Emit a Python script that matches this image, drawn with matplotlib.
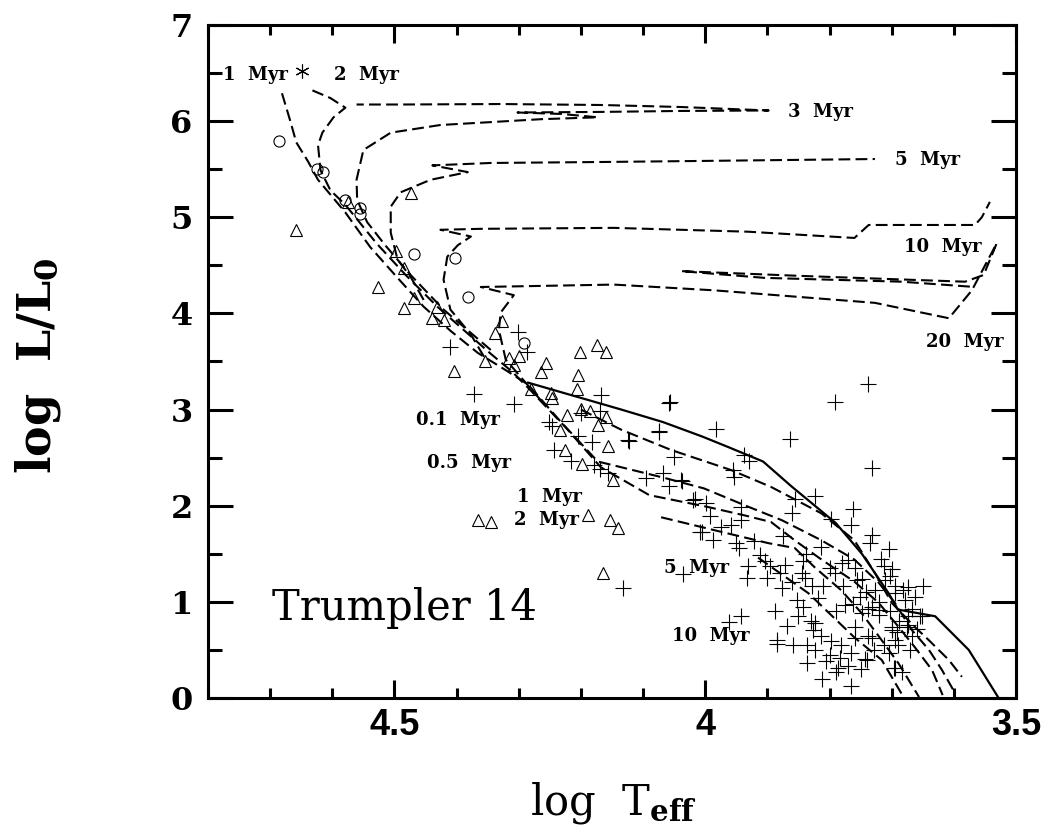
import matplotlib
matplotlib.use("Agg")
import matplotlib.pyplot as plt
from matplotlib.ticker import MultipleLocator

plt.rcParams['mathtext.fontset'] = 'dejavuserif'
plt.rcParams['lines.scale_dashes'] = False

# --- isochrones (log Teff, log L) ---
iso1_t = [4.681, 4.668, 4.658, 4.639, 4.623, 4.579, 4.539, 4.495, 4.453, 4.410, 4.366, 4.321,
          4.285, 4.232, 4.173, 4.135, 4.066, 4.002, 3.931, 3.877, 3.813, 3.760, 3.721, 3.695,
          3.668, 3.640, 3.619, 3.598]
iso1_l = [6.29, 6.01, 5.78, 5.58, 5.39, 5.05, 4.69, 4.37, 4.07, 3.82, 3.59, 3.41,
          3.26, 2.87, 2.46, 2.40, 2.29, 2.18, 1.99, 1.85, 1.64, 1.44, 1.20, 0.99,
          0.71, 0.50, 0.29, 0.05]

iso2_t = [4.632, 4.603, 4.579, 4.598, 4.616, 4.623, 4.619, 4.603, 4.579, 4.529, 4.482, 4.431,
          4.389, 4.345, 4.310, 4.281, 4.224, 4.168, 4.090, 3.998, 3.937, 3.894, 3.856, 3.813,
          3.760, 3.721, 3.689, 3.663, 3.635, 3.618]
iso2_l = [6.32, 6.24, 6.14, 6.04, 5.88, 5.75, 5.49, 5.28, 5.13, 4.73, 4.40, 4.07,
          3.83, 3.58, 3.39, 3.20, 2.81, 2.40, 2.11, 1.99, 1.90, 1.83, 1.64, 1.44,
          1.21, 0.99, 0.74, 0.53, 0.29, 0.03]

iso3_t = [4.345, 4.421, 4.474, 4.515, 4.544, 4.560, 4.561, 4.550, 4.506, 4.426, 4.345, 4.265,
          4.173, 4.232, 4.302, 4.168, 4.039, 3.898, 4.039, 4.168, 4.329, 4.490, 4.561]
iso3_l = [3.62, 4.04, 4.40, 4.71, 4.95, 5.18, 5.39, 5.70, 5.88, 5.96, 5.99, 6.02,
          6.04, 6.075, 6.09, 6.096, 6.106, 6.111, 6.147, 6.168, 6.178, 6.173, 6.173]

iso5_t = [4.453, 4.474, 4.495, 4.506, 4.506, 4.490, 4.442, 4.382, 4.439, 4.345, 4.168, 4.006, 3.727]
iso5_l = [4.14, 4.38, 4.56, 4.84, 5.11, 5.26, 5.39, 5.47, 5.54, 5.565, 5.575, 5.586, 5.606]

iso10_t = [4.356, 4.377, 4.410, 4.421, 4.415, 4.398, 4.377, 4.426, 4.361, 4.147, 3.931, 3.760,
           3.737, 3.566, 3.555, 3.542]
iso10_l = [3.55, 3.78, 4.04, 4.35, 4.59, 4.71, 4.80, 4.87, 4.88, 4.89, 4.85, 4.785,
           4.92, 4.92, 5.00, 5.16]

iso20_t = [4.265, 4.321, 4.332, 4.329, 4.308, 4.361, 4.147, 3.985, 3.727, 3.608, 3.571, 3.531,
           3.552, 3.582, 3.845, 4.039, 3.905, 3.684, 3.566]
iso20_l = [3.10, 3.52, 3.83, 4.01, 4.19, 4.275, 4.30, 4.24, 4.11, 3.95, 4.24, 4.73,
           4.40, 4.33, 4.39, 4.44, 4.37, 4.33, 4.275]

# pre-main-sequence isochrones
pms01_t = [4.285, 4.135, 4.068, 4.005, 3.963, 3.907, 3.861, 3.790, 3.748, 3.705, 3.690, 3.630,
           3.576, 3.528]
pms01_l = [3.28, 3.00, 2.87, 2.72, 2.61, 2.46, 2.20, 1.82, 1.50, 1.09, 0.92, 0.85, 0.50, 0.00]

pms05_t = [4.200, 4.135, 4.055, 3.958, 3.894, 3.813, 3.760, 3.727, 3.700, 3.663, 3.640, 3.608, 3.587]
pms05_l = [3.00, 2.79, 2.58, 2.37, 2.195, 1.92, 1.64, 1.30, 0.99, 0.74, 0.60, 0.395, 0.22]

pms5_t = [4.071, 3.969, 3.898, 3.856, 3.824, 3.781, 3.748, 3.716, 3.689, 3.656]
pms5_l = [1.88, 1.72, 1.61, 1.56, 1.36, 1.12, 0.88, 0.60, 0.36, 0.01]

pms10_t = [3.915, 3.834, 3.760, 3.716, 3.681]
pms10_l = [1.46, 1.09, 0.63, 0.395, 0.01]

# --- stars ---
circ_t = [4.685, 4.624, 4.615, 4.579, 4.555, 4.555, 4.469, 4.403, 4.381, 4.292]
circ_l = [5.79, 5.50, 5.47, 5.18, 5.10, 5.03, 4.62, 4.58, 4.17, 3.69]

star_t = [4.648]
star_l = [6.52]

tri_t = [4.658, 4.574, 4.474, 4.498, 4.485, 4.527, 4.469, 4.485, 4.431, 4.440, 4.421, 4.405,
         4.355, 4.327, 4.339, 4.316, 4.300, 4.308, 4.256, 4.265, 4.202, 4.174, 4.160, 4.205,
         4.206, 4.281, 4.248, 4.247, 4.223, 4.185, 4.200, 4.160, 4.173, 4.234, 4.156, 4.226,
         4.198, 4.148, 4.365, 4.344, 4.189, 4.153, 4.140, 4.165]
tri_l = [4.87, 5.16, 5.25, 4.65, 4.47, 4.27, 4.16, 4.06, 4.07, 3.95, 3.93, 3.40,
         3.51, 3.92, 3.80, 3.54, 3.56, 3.46, 3.48, 3.39, 3.60, 3.67, 3.60, 3.36,
         3.21, 3.21, 3.17, 3.12, 2.94, 2.99, 3.01, 2.92, 2.84, 2.79, 2.62, 2.58,
         2.43, 2.27, 1.85, 1.83, 1.90, 1.85, 1.77, 1.30]

cross_t = [4.302, 4.286, 4.410, 4.372, 4.308, 4.168, 4.058, 4.170, 4.200, 4.074, 4.050, 4.122,
           4.182, 4.204, 4.251, 4.246, 4.243, 4.216, 4.179, 4.170, 4.157, 4.095, 4.068, 4.058,
           4.038, 4.017, 4.009, 4.132, 4.036,
           3.738, 4.056, 3.792, 3.982, 3.864, 3.732, 4.075, 4.125, 3.937, 3.929, 3.956, 3.953,
           4.039, 4.020, 3.998, 3.993, 3.942, 3.942, 3.974, 3.958, 4.006, 3.988, 3.950, 3.945,
           3.921, 3.856, 3.861, 3.824, 3.762, 3.798, 3.765, 3.732, 3.735, 3.875, 3.813, 3.705,
           3.912, 3.904, 3.896, 3.931, 3.932, 3.872, 3.842, 3.845, 3.792, 3.770, 3.759, 3.700,
           3.713, 3.748, 3.876, 3.861, 3.840, 3.829, 3.810, 3.778, 3.756, 3.727, 3.711, 3.695,
           3.673, 3.649, 3.853, 3.842, 3.818, 3.775, 3.751, 3.738, 3.721, 3.695, 3.679, 3.668,
           3.673, 3.652, 3.887, 3.961, 3.942, 3.885, 3.885, 3.824, 3.826, 3.813, 3.837, 3.824,
           3.797, 3.781, 3.759, 3.759, 3.738, 3.700, 3.692, 3.695, 3.676, 3.705, 3.743, 3.765,
           3.805, 3.837, 3.786, 3.770, 3.789, 3.695, 3.684, 3.765,
           3.732, 3.721, 3.700, 3.673, 3.670, 3.697, 3.740, 3.654, 3.732, 3.748,
           3.800, 3.783, 3.830, 3.850, 3.790, 3.720, 3.742, 3.762, 3.703, 3.688, 3.668, 3.712,
           3.728, 3.750, 3.812, 3.858, 3.868, 3.900, 3.880, 3.838, 3.800, 3.780, 3.718, 3.702,
           3.662, 3.682, 3.690, 3.660]
cross_l = [3.81, 3.60, 3.65, 3.16, 3.06, 3.15, 3.07, 2.98, 2.96, 2.77, 2.51, 2.67,
           2.66, 2.73, 2.87, 2.83, 2.58, 2.46, 2.42, 2.38, 2.34, 2.29, 2.34, 2.21,
           2.26, 2.07, 1.73, 1.14, 1.29,
           3.27, 3.08, 3.08, 2.80, 2.69, 2.39, 2.78, 2.68, 2.53, 2.47, 2.37, 2.30,
           2.27, 2.06, 2.03, 1.89, 1.99, 1.85, 1.78, 1.80, 1.73, 1.64, 1.61, 1.56,
           1.63, 2.07, 1.92, 2.10, 1.97, 1.86, 1.80, 1.70, 1.61, 1.68, 1.57, 1.55,
           1.49, 1.42, 1.37, 1.37, 1.25, 1.38, 1.42, 1.30, 1.30, 1.44, 1.35, 1.34,
           1.37, 1.24, 1.14, 1.21, 1.25, 1.16, 1.16, 1.16, 1.23, 1.12, 1.23, 1.16,
           1.15, 1.17, 1.02, 0.95, 1.04, 0.97, 1.05, 0.93, 0.92, 1.09, 1.02, 0.93,
           0.85, 0.85, 0.90, 0.79, 0.85, 0.60, 0.56, 0.78, 0.71, 0.64, 0.55, 0.50,
           0.59, 0.55, 0.74, 0.62, 0.64, 0.74, 0.69, 0.60, 0.74, 0.47, 0.41, 0.47,
           0.38, 0.36, 0.31, 0.33, 0.27, 0.31, 0.27, 0.12,
           0.95, 0.86, 0.71, 0.76, 0.50, 0.31, 0.40, 0.85, 0.62, 0.88,
           0.45, 0.42, 0.80, 0.85, 0.90, 1.00, 1.10, 0.98, 0.90, 0.80, 0.65, 0.55,
           0.50, 0.30, 0.20, 0.55, 0.75, 1.25, 1.30, 1.50, 1.35, 1.40, 1.45, 1.27,
           1.05, 1.12, 0.55, 0.72]

# --- labels ---
age_text = ["1  Myr", "2  Myr", "3  Myr", "5  Myr", "10  Myr", "20  Myr",
            "0.1  Myr", "0.5  Myr", "1  Myr", "2  Myr", "5  Myr", "10  Myr"]
age_t = [4.776, 4.597, 3.867, 3.695, 3.681, 3.644, 4.466, 4.447, 4.303, 4.308, 4.066, 4.054]
age_l = [6.48, 6.48, 6.10, 5.60, 4.69, 3.70, 2.89, 2.44, 2.09, 1.85, 1.35, 0.64]

fig = plt.figure(figsize=(10.47, 8.33), dpi=100)
ax = fig.add_axes([208 / 1047, 1 - 698 / 833, 808 / 1047, 673 / 833])

dash = (0, (8.5, 3.8))
for t, l in [(iso1_t, iso1_l), (iso2_t, iso2_l), (iso3_t, iso3_l), (iso5_t, iso5_l),
             (iso10_t, iso10_l), (iso20_t, iso20_l), (pms05_t, pms05_l),
             (pms5_t, pms5_l), (pms10_t, pms10_l)]:
    ax.plot(t, l, color='black', lw=1.5, linestyle=dash)
ax.plot(pms01_t, pms01_l, color='black', lw=1.6)

ax.plot(cross_t, cross_l, '+', color='black', ms=11, mew=0.8)
ax.plot(tri_t, tri_l, '^', mfc='none', mec='black', ms=9, mew=0.8)
ax.plot(circ_t, circ_l, 'o', mfc='none', mec='black', ms=8, mew=0.8)
ax.plot(star_t, star_l, marker=(6, 2, 0), color='black', ms=10, mew=0.8, linestyle='none')

for s, t, l in zip(age_text, age_t, age_l):
    ax.text(t, l, s, ha='left', va='center', fontsize=13, fontweight='bold',
            family='DejaVu Serif')

ax.text(4.697, 0.81, "Trumpler 14", ha='left', va='baseline', fontsize=30,
        family='DejaVu Serif')

ax.set_xlim(4.8, 3.5)
ax.set_ylim(0, 7)
ax.xaxis.set_major_locator(MultipleLocator(0.5))
ax.xaxis.set_minor_locator(MultipleLocator(0.1))
ax.yaxis.set_major_locator(MultipleLocator(1))
ax.yaxis.set_minor_locator(MultipleLocator(0.5))
ax.xaxis.set_major_formatter(plt.FuncFormatter(lambda v, p: ('%g' % v)))

for sp in ax.spines.values():
    sp.set_linewidth(2.2)
ax.tick_params(axis='both', which='both', direction='in', top=True, right=True, width=2.2)
ax.tick_params(axis='x', which='major', length=13, pad=7)
ax.tick_params(axis='x', which='minor', length=7)
ax.tick_params(axis='y', which='major', length=18, pad=11)
ax.tick_params(axis='y', which='minor', length=10)

for lab in ax.get_xticklabels():
    lab.set_family('Liberation Sans')
    lab.set_fontweight('bold')
    lab.set_fontsize(26)
for lab in ax.get_yticklabels():
    lab.set_family('DejaVu Serif')
    lab.set_fontweight('bold')
    lab.set_fontsize(23)

fig.text(38 / 1047, 1 - 366 / 833, r'log  L/L$_\mathbf{0}$', rotation=90, ha='center',
         va='center', fontsize=33, fontweight='bold', family='DejaVu Serif')
fig.text(613 / 1047, 1 - 814 / 833, r'log  T$_\mathbf{eff}$', ha='center', va='baseline',
         fontsize=30, family='DejaVu Serif')

fig.savefig('out.png', dpi=100)
